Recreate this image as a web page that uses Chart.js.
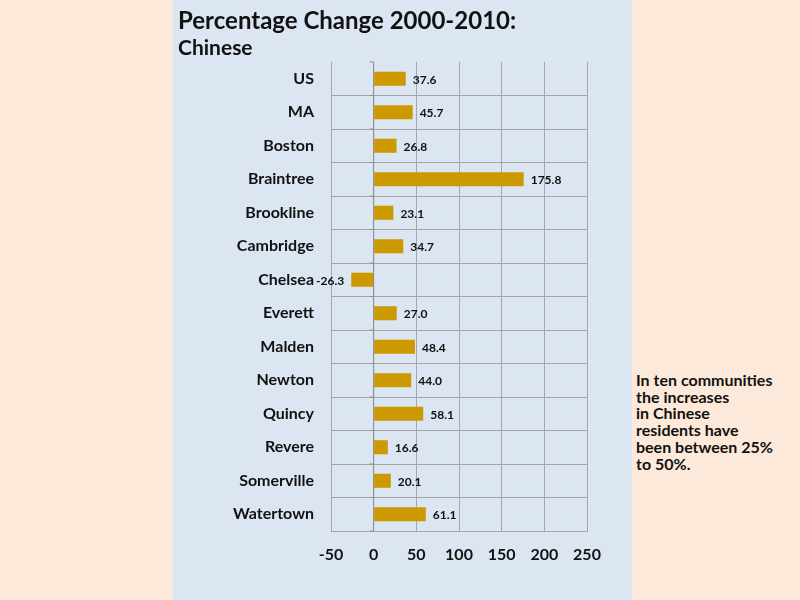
<!DOCTYPE html>
<html>
<head>
<meta charset="utf-8">
<script src="https://cdn.jsdelivr.net/npm/chart.js@4/dist/chart.umd.min.js"></script>
<style>
  html, body { margin: 0; padding: 0; }
  body { width: 800px; height: 600px; background: #FDE9D9; position: relative; overflow: hidden; font-family: Lato, "Open Sans", sans-serif; }
  #panel { position: absolute; left: 173px; top: 0; width: 459px; height: 600px; background: #DCE6F2; }
  #wrap { position: absolute; left: 0; top: 0; width: 459px; height: 600px; }
  #title { position: absolute; left: 5px; top: 5px; font-size: 24px; font-weight: bold; color: #111; white-space: nowrap; }
  #subtitle { position: absolute; left: 5px; top: 34px; font-size: 21px; font-weight: bold; color: #111; }
  #note { position: absolute; left: 636px; top: 372px; font-size: 16px; font-weight: bold; line-height: 16.7px; color: #111; }
</style>
</head>
<body>
<div id="panel">
  <div id="wrap"><canvas id="bar-chart"></canvas></div>
  <div id="title">Percentage Change 2000-2010:</div>
  <div id="subtitle">Chinese</div>
</div>
<div id="note">In ten communities<br>the increases<br>in Chinese<br>residents have<br>been between 25%<br>to 50%.</div>
<script>
var places = ["US", "MA", "Boston", "Braintree", "Brookline", "Cambridge", "Chelsea",
              "Everett", "Malden", "Newton", "Quincy", "Revere", "Somerville", "Watertown"];
var change = [37.6, 45.7, 26.8, 175.8, 23.1, 34.7, -26.3, 27.0, 48.4, 44.0, 58.1, 16.6, 20.1, 61.1];
var xTicks = [-50, 0, 50, 100, 150, 200, 250];

var gridColor = "#A6A6A6";

// value labels next to each bar
var valueLabels = {
  id: "valueLabels",
  afterDatasetsDraw: function(chart) {
    var ctx = chart.ctx;
    var meta = chart.getDatasetMeta(0);
    ctx.save();
    ctx.font = "bold 12px Lato, 'Open Sans', sans-serif";
    ctx.fillStyle = "#111";
    ctx.textBaseline = "middle";
    meta.data.forEach(function(bar, i) {
      var v = change[i];
      if (v >= 0) {
        ctx.textAlign = "left";
        ctx.fillText(v.toFixed(1), bar.x + 7, bar.y + 1);
      } else {
        ctx.textAlign = "right";
        ctx.fillText(v.toFixed(1), bar.x - 7, bar.y + 1);
      }
    });
    ctx.restore();
  }
};

// little tick marks on the zero line, between categories
var zeroTicks = {
  id: "zeroTicks",
  beforeDatasetsDraw: function(chart) {
    var ctx = chart.ctx, x = chart.scales.x, y = chart.scales.y;
    var x0 = x.getPixelForValue(0);
    var step = y.height / places.length;
    ctx.save();
    ctx.strokeStyle = "#8C8C8C";
    ctx.lineWidth = 1;
    ctx.beginPath();
    ctx.moveTo(x0, chart.chartArea.top);
    ctx.lineTo(x0, chart.chartArea.bottom);
    for (var i = 0; i <= places.length; i++) {
      var py = y.top + i * step;
      ctx.moveTo(x0 - 4, py);
      ctx.lineTo(x0, py);
    }
    ctx.stroke();
    ctx.restore();
  }
};

new Chart(document.getElementById("bar-chart"), {
  type: "bar",
  data: {
    labels: places,
    datasets: [{
      data: change,
      backgroundColor: "#CC9900",
      borderWidth: 0,
      barPercentage: 0.42,
      categoryPercentage: 1.0
    }]
  },
  options: {
    indexAxis: "y",
    responsive: true,
    maintainAspectRatio: false,
    animation: false,
    layout: { padding: { top: 62, right: 45, left: 0, bottom: 0 } },
    plugins: {
      legend: { display: false },
      tooltip: { enabled: false },
      title: { display: false }
    },
    scales: {
      x: {
        min: -50,
        max: 250,
        afterBuildTicks: function(scale) {
          scale.ticks = xTicks.map(function(v) { return { value: v }; });
        },
        afterFit: function(scale) { scale.height = 69; },
        grid: { color: gridColor, drawTicks: false },
        border: { color: gridColor },
        ticks: {
          padding: 14,
          color: "#111",
          font: { family: "Lato, 'Open Sans', sans-serif", size: 16, weight: "bold" }
        }
      },
      y: {
        afterFit: function(scale) { scale.width = 158; },
        grid: {
          offset: true,
          drawTicks: false,
          color: function(c) { return c.index === 0 ? "rgba(0,0,0,0)" : gridColor; }
        },
        border: { color: gridColor },
        ticks: {
          padding: 17,
          color: "#111",
          font: { family: "Lato, 'Open Sans', sans-serif", size: 16, weight: "bold" }
        }
      }
    }
  },
  plugins: [zeroTicks, valueLabels]
});
</script>
</body>
</html>
